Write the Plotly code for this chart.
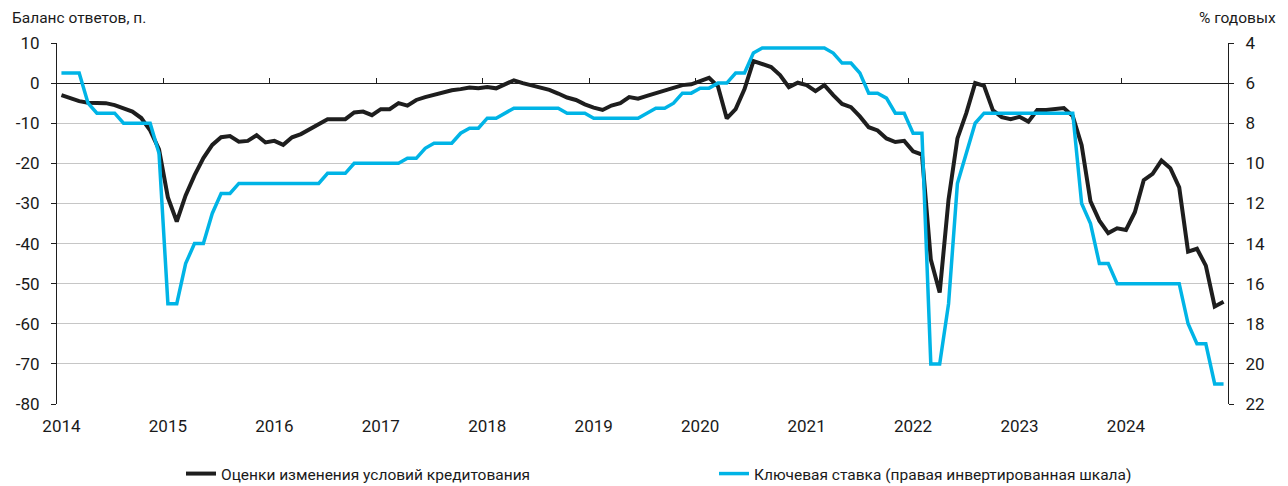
import plotly.graph_objects as go

years = ["2014", "2015", "2016", "2017", "2018", "2019", "2020", "2021", "2022", "2023", "2024"]

left_ticks = [10, 0, -10, -20, -30, -40, -50, -60, -70, -80]
left_tick_labels = ["10", "0", "-10", "-20", "-30", "-40", "-50", "-60", "-70", "-80"]

credit_conditions = [
    -3.0, -3.8, -4.5, -4.9, -4.9, -5.0, -5.5, -6.4, -7.1, -8.7, -11.8, -16.5,
    -28.5, -34.5, -28.0, -23.0, -18.7, -15.4, -13.5, -13.2, -14.6, -14.4, -13.0, -14.8,
    -14.4, -15.4, -13.5, -12.7, -11.5, -10.2, -9.0, -9.0, -9.0, -7.3, -7.1, -8.0,
    -6.5, -6.5, -5.0, -5.6, -4.2, -3.5, -2.9, -2.5, -1.8, -1.5, -1.1, -1.3,
    -1.0, -1.3, -0.3, 0.7, 0.0, -0.5, -1.0, -1.7, -2.6, -3.6, -4.2, -5.3,
    -6.1, -6.7, -5.6, -5.0, -3.5, -3.9, -3.2, -2.5, -1.7, -1.0, -0.5, -0.3,
    0.4, 1.3, -0.8, -8.8, -6.5, -1.5, 5.5, 4.7, 4.0, 2.0, -1.0, 0.1,
    -0.5, -2.0, -0.5, -3.0, -5.2, -6.0, -8.3, -11.0, -11.8, -13.8, -14.7, -14.4,
    -17.0, -17.8, -44.0, -52.2, -29.0, -13.8, -7.5, 0.0, -0.7, -6.8, -8.5, -9.0,
    -8.4, -9.6, -6.7, -6.7, -6.5, -6.2, -8.2, -15.5, -29.5, -34.3, -37.4, -36.2,
    -36.6, -32.2, -24.2, -22.6, -19.3, -21.2, -26.0, -42.0, -41.3, -45.5, -55.7, -54.5,
]

key_rate = [
    5.5, 5.5, 5.5, 7.0, 7.5, 7.5, 7.5, 8.0, 8.0, 8.0, 8.0, 9.5,
    17, 17, 15, 14, 14, 12.5, 11.5, 11.5, 11, 11, 11, 11,
    11, 11, 11, 11, 11, 11, 10.5, 10.5, 10.5, 10, 10, 10,
    10, 10, 10, 9.75, 9.75, 9.25, 9.0, 9.0, 9.0, 8.5, 8.25, 8.25,
    7.75, 7.75, 7.5, 7.25, 7.25, 7.25, 7.25, 7.25, 7.25, 7.5, 7.5, 7.5,
    7.75, 7.75, 7.75, 7.75, 7.75, 7.75, 7.5, 7.25, 7.25, 7.0, 6.5, 6.5,
    6.25, 6.25, 6.0, 6.0, 5.5, 5.5, 4.5, 4.25, 4.25, 4.25, 4.25, 4.25,
    4.25, 4.25, 4.25, 4.5, 5.0, 5.0, 5.5, 6.5, 6.5, 6.75, 7.5, 7.5,
    8.5, 8.5, 20, 20, 17, 11, 9.5, 8.0, 7.5, 7.5, 7.5, 7.5,
    7.5, 7.5, 7.5, 7.5, 7.5, 7.5, 7.5, 12, 13, 15, 15, 16,
    16, 16, 16, 16, 16, 16, 16, 18, 19, 19, 21, 21,
]

series_names = ["Оценки изменения условий кредитования",
                "Ключевая ставка (правая инвертированная шкала)"]
left_title = "Баланс ответов, п."
right_title = "% годовых"

n = len(credit_conditions)
months = list(range(n))
year_ticks = [12 * k for k in range(len(years))]
boundary_ticks = [12 * k - 0.5 for k in range(1, len(years) + 1)]

FONT = "Liberation Sans Narrow, Roboto, sans-serif"
FS_TICK = 17
FS_TEXT = 15.5
BLACK = "#1e1e1e"
CYAN = "#00b4e6"
TXT = "#1a1a1a"

# page has an 8px body margin, figure is drawn in the remaining area
W, H = 1280, 478
L, R, T, B = 49, 60, 35, 82
PW = W - L - R
PH = H - T - B

fig = go.Figure()
fig.add_trace(go.Scatter(x=months, y=credit_conditions, name=series_names[0],
                         mode="lines", line=dict(color=BLACK, width=4),
                         xaxis="x", yaxis="y", legend="legend"))
fig.add_trace(go.Scatter(x=months, y=key_rate, name=series_names[1],
                         mode="lines", line=dict(color=CYAN, width=3.5),
                         xaxis="x2", yaxis="y2", legend="legend2"))

xr = [-0.5, n - 0.5]
leg_common = dict(orientation="h", yanchor="middle", y=-70 / PH,
                  xanchor="left", font=dict(size=FS_TEXT, family=FONT, color=TXT),
                  bgcolor="rgba(0,0,0,0)", borderwidth=0)
fig.update_layout(
    width=W, height=H,
    margin=dict(l=L, r=R, t=T, b=B, autoexpand=False),
    paper_bgcolor="white", plot_bgcolor="white",
    font=dict(family=FONT, size=FS_TICK, color=TXT),
    showlegend=True,
    legend=dict(leg_common, x=(173 - L) / PW),
    legend2=dict(leg_common, x=(706 - L) / PW),
    xaxis=dict(range=xr, tickmode="array", tickvals=year_ticks, ticktext=years,
               showgrid=False, zeroline=False, ticks="", showline=False,
               ticklabelstandoff=10, tickfont=dict(size=FS_TICK)),
    xaxis2=dict(range=xr, overlaying="x", anchor="free", position=80 / 90,
                side="top", tickmode="array", tickvals=boundary_ticks,
                ticks="outside", ticklen=5, tickwidth=1, tickcolor=BLACK,
                showticklabels=False, showgrid=False, zeroline=False, showline=False),
    yaxis=dict(range=[-80, 10], tickmode="array", tickvals=left_ticks,
               ticktext=left_tick_labels, showgrid=True,
               gridcolor="#c6c6c6", gridwidth=1.3,
               zeroline=True, zerolinecolor=BLACK, zerolinewidth=1.3,
               showline=True, linecolor=BLACK, linewidth=1,
               ticks="outside", ticklen=5, tickcolor=BLACK,
               ticklabelstandoff=8, tickfont=dict(size=FS_TICK)),
    yaxis2=dict(range=[22, 4], dtick=2, tick0=4, overlaying="y", side="right",
                anchor="free", position=1,
                showgrid=False, zeroline=False,
                showline=True, linecolor=BLACK, linewidth=1,
                ticks="outside", ticklen=5, tickcolor=BLACK,
                ticklabelstandoff=8, tickfont=dict(size=FS_TICK)),
    annotations=[
        dict(text=left_title, xref="paper", yref="paper", x=(2 - L) / PW, y=1 + 25 / PH,
             xanchor="left", yanchor="middle", showarrow=False, font=dict(size=FS_TEXT)),
        dict(text=right_title, xref="paper", yref="paper", x=(1270 - L) / PW, y=1 + 25 / PH,
             xanchor="right", yanchor="middle", showarrow=False, font=dict(size=FS_TEXT)),
    ],
)

fig.write_html("out.html")
